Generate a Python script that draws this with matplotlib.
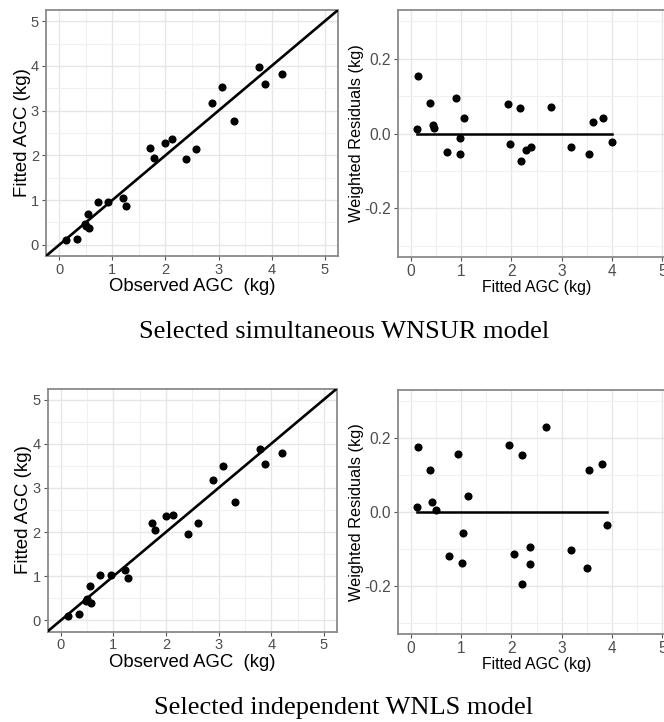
import matplotlib
matplotlib.use("Agg")
import matplotlib.pyplot as plt
from matplotlib.ticker import MultipleLocator

plt.rcParams['font.family'] = ['Liberation Sans', 'DejaVu Sans']

# ---- Data: Selected simultaneous WNSUR model ----
sur_observed = [0.125, 0.33, 0.48, 0.50, 0.535, 0.565, 0.73, 0.92, 1.20, 1.25, 1.71, 1.78,
                2.00, 2.12, 2.38, 2.58, 2.88, 3.07, 3.29, 3.77, 3.87, 4.19]
sur_fitted = [0.11, 0.13, 0.46, 0.42, 0.70, 0.37, 0.95, 0.95, 1.04, 0.87, 2.16, 1.93,
              2.28, 2.36, 1.91, 2.14, 3.17, 3.52, 2.77, 3.98, 3.60, 3.82]
sur_res_fitted = [0.146, 0.13, 0.38, 0.44, 0.47, 0.73, 0.90, 0.98, 0.98, 1.06, 1.93, 1.97,
                  2.17, 2.19, 2.30, 2.39, 2.79, 3.19, 3.54, 3.62, 3.82, 4.00]
sur_residuals = [0.153, 0.011, 0.081, 0.022, 0.014, -0.050, 0.095, -0.013, -0.056, 0.041, 0.079, -0.028,
                 0.069, -0.074, -0.043, -0.037, 0.071, -0.037, -0.056, 0.032, 0.041, -0.024]

# ---- Data: Selected independent WNLS model ----
nls_observed = [0.13, 0.35, 0.49, 0.50, 0.555, 0.57, 0.75, 0.95, 1.22, 1.27, 1.73, 1.79,
                2.01, 2.14, 2.41, 2.60, 2.90, 3.09, 3.31, 3.79, 3.89, 4.21]
nls_fitted = [0.11, 0.14, 0.45, 0.48, 0.77, 0.39, 1.02, 1.02, 1.14, 0.95, 2.20, 2.05,
              2.36, 2.38, 1.96, 2.20, 3.18, 3.50, 2.68, 3.88, 3.53, 3.80]
nls_res_fitted = [0.147, 0.127, 0.39, 0.43, 0.50, 0.77, 0.95, 1.04, 1.02, 1.13, 1.96, 2.06,
                  2.22, 2.21, 2.38, 2.37, 2.69, 3.18, 3.55, 3.51, 3.80, 3.89]
nls_residuals = [0.176, 0.013, 0.112, 0.026, 0.005, -0.120, 0.157, -0.057, -0.139, 0.043, 0.180, -0.113,
                 0.152, -0.196, -0.094, -0.142, 0.228, -0.102, 0.112, -0.152, 0.129, -0.036]

captions = ["Selected simultaneous WNSUR model", "Selected independent WNLS model"]

W, H = 664, 722
fig = plt.figure(figsize=(W / 100, H / 100), dpi=100)


def px_axes(l, t, r, b):
    return fig.add_axes([l / W, 1 - b / H, (r - l) / W, (b - t) / H])


def style(ax, tick_size):
    ax.set_facecolor('white')
    ax.grid(True, which='major', color='#E6E6E6', lw=1.0, zorder=0)
    ax.grid(True, which='minor', color='#F0F0F0', lw=0.8, zorder=0)
    ax.set_axisbelow(True)
    for s in ax.spines.values():
        s.set_color('#8a8a8a')
        s.set_linewidth(1.3)
    ax.tick_params(which='major', length=3, width=0.8, color='#555555',
                   labelsize=tick_size, labelcolor='#4D4D4D', pad=2)
    ax.tick_params(which='minor', length=0)


def fit_panel(ax, obs, fit):
    ax.set_xlim(-0.25, 5.25)
    ax.set_ylim(-0.25, 5.25)
    ax.xaxis.set_major_locator(MultipleLocator(1))
    ax.yaxis.set_major_locator(MultipleLocator(1))
    ax.xaxis.set_minor_locator(MultipleLocator(0.5))
    ax.yaxis.set_minor_locator(MultipleLocator(0.5))
    style(ax, 10.5)
    ax.scatter(obs, fit, s=34, color='black', zorder=3, linewidths=0)
    ax.axline((0, 0), slope=1, color='black', lw=1.9, zorder=4)
    ax.set_xlabel("Observed AGC  (kg)", fontsize=13.3, labelpad=1)
    ax.set_ylabel("Fitted AGC (kg)", fontsize=13.5, labelpad=0)


def res_panel(ax, xf, res):
    ax.set_xlim(-0.25, 5.25)
    ax.set_ylim(-0.33, 0.33)
    ax.xaxis.set_major_locator(MultipleLocator(1))
    ax.xaxis.set_minor_locator(MultipleLocator(0.5))
    ax.set_yticks([-0.2, 0.0, 0.2])
    ax.set_yticklabels(['-0.2', '0.0', '0.2'])
    ax.set_yticks([-0.3, -0.1, 0.1, 0.3], minor=True)
    style(ax, 11.2)
    ax.scatter(xf, res, s=34, color='black', zorder=3, linewidths=0)
    ax.plot([min(xf), max(xf)], [0, 0], color='black', lw=1.8, zorder=4)
    ax.set_xlabel("Fitted AGC (kg)", fontsize=11.4, labelpad=1)
    ax.set_ylabel("Weighted Residuals (kg)", fontsize=11.7, labelpad=0)


ax1 = px_axes(46, 10, 338, 256)
fit_panel(ax1, sur_observed, sur_fitted)
ax2 = px_axes(398, 10, 675, 257)
res_panel(ax2, sur_res_fitted, sur_residuals)

ax3 = px_axes(47.5, 388.5, 337, 631.5)
fit_panel(ax3, nls_observed, nls_fitted)
ax4 = px_axes(398, 389.5, 675, 634)
res_panel(ax4, nls_res_fitted, nls_residuals)

fig.text(344 / W, 1 - 332 / H, captions[0], ha='center', va='center',
         family=['Liberation Serif', 'DejaVu Serif'], fontsize=19)
fig.text(344 / W, 1 - 708 / H, captions[1], ha='center', va='center',
         family=['Liberation Serif', 'DejaVu Serif'], fontsize=19)

fig.savefig("out.png", dpi=100, facecolor='white')
